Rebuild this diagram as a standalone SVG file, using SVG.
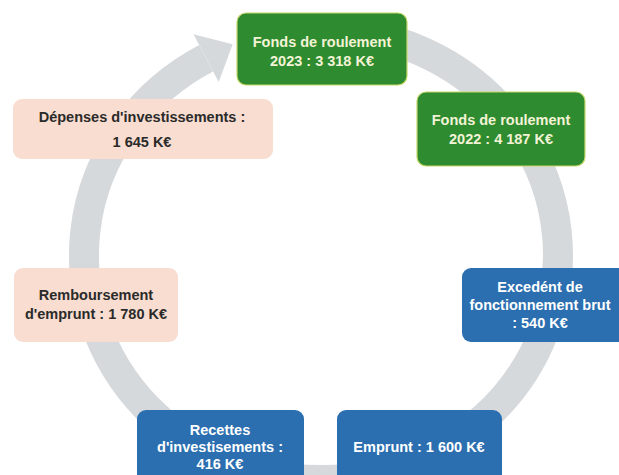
<svg xmlns="http://www.w3.org/2000/svg" width="619" height="475" viewBox="0 0 619 475">
<style>
  .ring{fill:none;stroke:#d6d9dc;stroke-width:30}
  .head{fill:#d6d9dc}
  .green{fill:#2e8b30;stroke:#c8d86a;stroke-width:1.2}
  .blue{fill:#2b6fb0}
  .peach{fill:#f8ddd0}
  text{font-family:"Liberation Sans",Arial,sans-serif;font-size:14.5px;font-weight:600;text-anchor:middle;dominant-baseline:central}
  .tg{fill:#f3f3d6}
  .tb{fill:#ffffff}
  .tp{fill:#2a2a2a}
</style>
<rect width="619" height="475" fill="#ffffff"/>
<g id="connectors">
  <path class="ring" d="M321,30 A237,225 0 1 1 206.1,58.2"/>
  <polygon class="head" points="218.7,82.1 193.5,34.3 232.7,44.2"/>
</g>
<g id="n-fr2023">
  <rect class="green" x="237" y="13" width="170" height="72" rx="9"/>
  <text class="tg" x="322" y="42">Fonds de roulement</text>
  <text class="tg" x="322" y="61">2023 : 3 318 K€</text>
</g>
<g id="n-fr2022">
  <rect class="green" x="417" y="92" width="168" height="74" rx="9"/>
  <text class="tg" x="501" y="120">Fonds de roulement</text>
  <text class="tg" x="501" y="139">2022 : 4 187 K€</text>
</g>
<g id="n-ebf">
  <rect class="blue" x="462" y="268" width="166" height="74" rx="9"/>
  <text class="tb" x="540" y="287">Excedént de</text>
  <text class="tb" x="540" y="305">fonctionnement brut</text>
  <text class="tb" x="540" y="323">: 540 K€</text>
</g>
<g id="n-emprunt">
  <rect class="blue" x="337" y="410" width="165" height="75" rx="9"/>
  <text class="tb" x="419" y="447">Emprunt : 1 600 K€</text>
</g>
<g id="n-recettes">
  <rect class="blue" x="137" y="410" width="167" height="75" rx="9"/>
  <text class="tb" x="220" y="430">Recettes</text>
  <text class="tb" x="220" y="447">d'investisements :</text>
  <text class="tb" x="220" y="464">416 K€</text>
</g>
<g id="n-remb">
  <rect class="peach" x="14" y="268" width="164" height="74" rx="9"/>
  <text class="tp" x="96" y="295">Remboursement</text>
  <text class="tp" x="96" y="314">d'emprunt : 1 780 K€</text>
</g>
<g id="n-depenses">
  <rect class="peach" x="13" y="99" width="260" height="60" rx="9"/>
  <text class="tp" x="142" y="117">Dépenses d'investissements :</text>
  <text class="tp" x="142" y="142">1 645 K€</text>
</g>
</svg>
